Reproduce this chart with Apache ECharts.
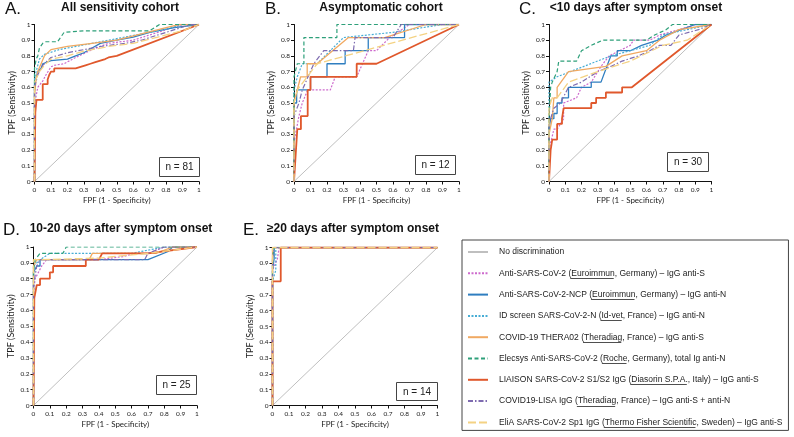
<!DOCTYPE html>
<html><head><meta charset="utf-8">
<script src="https://cdn.jsdelivr.net/npm/echarts@6/dist/echarts.min.js"></script>
<style>html,body{margin:0;padding:0;background:#fff}#c{width:794px;height:437px}</style>
</head><body><div id="c"></div><script>
// ---------- labels ----------
const tickLabels = ['0','0.1','0.2','0.3','0.4','0.5','0.6','0.7','0.8','0.9','1'];
const panelLetters = ['A.','B.','C.','D.','E.'];
const panelTitles = ['All sensitivity cohort','Asymptomatic cohort','<10 days after symptom onset','10-20 days after symptom onset','\u226520 days after symptom onset'];
const panelN = [81, 12, 30, 25, 14];
const diagName = 'No discrimination';
const seriesNames = [
  'Anti-SARS-CoV-2 (Euroimmun, Germany) \u2013 IgG anti-S',
  'Anti-SARS-CoV-2-NCP (Euroimmun, Germany) \u2013 IgG anti-N',
  'ID screen SARS-CoV-2-N (Id-vet, France) \u2013 IgG anti-N',
  'COVID-19 THERA02 (Theradiag, France) \u2013 IgG anti-S',
  'Elecsys Anti-SARS-CoV-2 (Roche, Germany), total Ig anti-N',
  'LIAISON SARS-CoV-2 S1/S2 IgG (Diasorin S.P.A., Italy) \u2013 IgG anti-S',
  'COVID19-LISA IgG (Theradiag, France) \u2013 IgG anti-S + anti-N',
  'EliA SARS-CoV-2 Sp1 IgG (Thermo Fisher Scientific, Sweden) \u2013 IgG anti-S'
];
const underlined = ['Euroimmun','Euroimmun','Id-vet','Theradiag','Roche','Diasorin S.P.A.','Theradiag','Thermo Fisher Scientific'];

// ---------- data: [FPF, TPF] ----------
const diagonal = [[0,0],[1,1]];

// A. All sensitivity cohort (n = 81)
const A_euroS = [[0,0],[0,0.49],[0.02,0.6],[0.05,0.64],[0.07,0.68],[0.1,0.73],[0.12,0.74],[0.18,0.75],[0.25,0.79],[0.35,0.84],[0.45,0.88],[0.6,0.9],[0.75,0.95],[0.9,1],[1,1]];
const A_euroN = [[0,0],[0,0.62],[0.01,0.66],[0.02,0.7],[0.04,0.72],[0.05,0.75],[0.1,0.77],[0.2,0.78],[0.25,0.8],[0.3,0.82],[0.35,0.85],[0.4,0.88],[0.5,0.9],[0.6,0.92],[0.7,0.95],[0.85,0.98],[1,1]];
const A_idvet = [[0,0],[0,0.66],[0.01,0.7],[0.03,0.78],[0.06,0.81],[0.15,0.84],[0.3,0.87],[0.5,0.91],[0.65,0.94],[0.8,0.97],[0.9,1],[1,1]];
const A_thera = [[0,0],[0,0.55],[0.01,0.65],[0.02,0.7],[0.04,0.75],[0.06,0.8],[0.1,0.84],[0.2,0.86],[0.35,0.88],[0.5,0.9],[0.65,0.94],[0.8,0.98],[0.88,1],[1,1]];
const A_elecsys = [[0,0],[0,0.72],[0.01,0.78],[0.02,0.8],[0.03,0.85],[0.05,0.88],[0.065,0.89],[0.14,0.89],[0.18,0.95],[0.3,0.96],[0.7,0.96],[0.76,1],[1,1]];
const A_liaison = [[0,0],[0.005,0],[0.005,0.44],[0.012,0.44],[0.012,0.52],[0.05,0.52],[0.05,0.62],[0.08,0.62],[0.08,0.65],[0.09,0.65],[0.09,0.68],[0.1,0.68],[0.1,0.7],[0.12,0.7],[0.12,0.72],[0.25,0.72],[0.25,0.73],[0.28,0.73],[0.28,0.74],[0.31,0.74],[0.31,0.75],[0.34,0.75],[0.34,0.76],[0.37,0.76],[0.37,0.77],[0.4,0.77],[0.4,0.78],[0.43,0.78],[0.43,0.79],[0.45,0.79],[0.45,0.8],[0.5,0.8],[0.5,0.81],[1,1]];
const A_lisa = [[0,0],[0,0.6],[0.02,0.68],[0.05,0.74],[0.1,0.79],[0.2,0.82],[0.3,0.84],[0.4,0.86],[0.55,0.88],[0.65,0.9],[0.8,0.95],[0.95,1],[1,1]];
const A_elia = [[0,0],[0,0.63],[0.03,0.7],[0.06,0.74],[0.1,0.78],[0.2,0.8],[0.3,0.83],[0.45,0.86],[0.6,0.88],[0.75,0.92],[0.9,0.96],[1,1]];

// B. Asymptomatic cohort (n = 12)
const B_euroS = [[0,0],[0,0.25],[0.03,0.417],[0.05,0.5],[0.083,0.583],[0.22,0.583],[0.25,0.667],[0.38,0.667],[0.45,0.833],[0.5,0.833],[0.58,0.917],[0.7,1],[1,1]];
const B_euroN = [[0,0],[0,0.5],[0.016,0.5],[0.016,0.583],[0.1,0.583],[0.1,0.667],[0.2,0.667],[0.2,0.75],[0.31,0.75],[0.31,0.833],[0.45,0.833],[0.45,0.917],[0.67,0.917],[0.67,1],[1,1]];
const B_idvet = [[0,0],[0,0.583],[0.02,0.667],[0.05,0.75],[0.14,0.75],[0.3,0.917],[0.6,0.95],[0.9,1],[1,1]];
const B_thera = [[0,0],[0,0.5],[0.02,0.583],[0.04,0.667],[0.08,0.667],[0.08,0.75],[0.14,0.75],[0.33,0.917],[0.55,0.917],[0.8,1],[1,1]];
const B_elecsys = [[0,0],[0,0.667],[0.02,0.75],[0.06,0.75],[0.06,0.917],[0.26,0.917],[0.26,1],[1,1]];
const B_liaison = [[0,0],[0.01,0],[0.01,0.167],[0.02,0.167],[0.02,0.333],[0.042,0.333],[0.042,0.417],[0.083,0.417],[0.083,0.583],[0.1,0.583],[0.1,0.667],[0.38,0.667],[0.38,0.75],[0.5,0.75],[1,1]];
const B_lisa = [[0,0],[0,0.417],[0.03,0.5],[0.05,0.583],[0.12,0.75],[0.18,0.833],[0.36,0.833],[0.37,0.917],[0.6,0.917],[0.65,1],[1,1]];
const B_elia = [[0,0],[0,0.5],[0.02,0.583],[0.08,0.667],[0.14,0.75],[1,1]];

// C. <10 days after symptom onset (n = 30)
const C_euroS = [[0,0],[0,0.2],[0.03,0.333],[0.05,0.333],[0.09,0.4],[0.09,0.5],[0.17,0.533],[0.2,0.6],[0.26,0.633],[0.32,0.733],[0.37,0.8],[0.5,0.867],[0.52,0.9],[0.62,0.9],[0.68,0.933],[0.8,0.967],[0.9,1],[1,1]];
const C_euroN = [[0,0],[0,0.333],[0.01,0.4],[0.03,0.4],[0.03,0.433],[0.05,0.433],[0.05,0.5],[0.08,0.5],[0.08,0.533],[0.12,0.533],[0.12,0.6],[0.26,0.6],[0.26,0.633],[0.32,0.633],[0.38,0.8],[0.42,0.8],[0.42,0.833],[0.5,0.833],[0.57,0.867],[0.67,0.9],[0.72,0.933],[0.9,1],[1,1]];
const C_idvet = [[0,0],[0,0.633],[0.05,0.667],[0.38,0.8],[0.5,0.833],[0.62,0.867],[0.7,0.933],[0.85,0.967],[1,1]];
const C_thera = [[0,0],[0,0.3],[0.02,0.4],[0.03,0.533],[0.05,0.533],[0.05,0.6],[0.12,0.7],[0.35,0.733],[0.45,0.8],[0.6,0.833],[0.68,0.9],[0.8,0.967],[1,1]];
const C_elecsys = [[0,0],[0,0.4],[0.01,0.6],[0.02,0.633],[0.05,0.7],[0.06,0.767],[0.17,0.767],[0.2,0.833],[0.26,0.867],[0.33,0.9],[0.6,0.9],[0.65,0.933],[0.72,0.967],[0.76,1],[1,1]];
const C_liaison = [[0,0],[0.01,0.2],[0.02,0.2],[0.02,0.267],[0.05,0.267],[0.05,0.367],[0.08,0.367],[0.08,0.4],[0.09,0.467],[0.26,0.467],[0.26,0.5],[0.29,0.5],[0.29,0.533],[0.35,0.533],[0.35,0.567],[0.45,0.567],[0.45,0.6],[0.51,0.6],[1,1]];
const C_lisa = [[0,0],[0,0.367],[0.03,0.467],[0.07,0.5],[0.12,0.6],[0.2,0.633],[0.3,0.7],[0.38,0.733],[0.45,0.767],[0.55,0.8],[0.62,0.833],[0.68,0.867],[0.75,0.867],[0.8,0.933],[0.92,0.967],[1,1]];
const C_elia = [[0,0],[0,0.467],[0.02,0.533],[0.05,0.533],[0.12,0.633],[0.3,0.7],[0.5,0.767],[0.7,0.867],[0.85,0.9],[1,1]];

// D. 10-20 days after symptom onset (n = 25)
const D_euroS = [[0,0],[0,0.72],[0.01,0.8],[0.03,0.84],[0.05,0.88],[0.08,0.92],[0.4,0.92],[0.55,0.94],[0.62,0.96],[0.7,0.96],[0.8,1],[1,1]];
const D_euroN = [[0,0],[0,0.84],[0.02,0.88],[0.04,0.88],[0.04,0.92],[0.7,0.92],[0.82,0.97],[0.85,1],[1,1]];
const D_idvet = [[0,0],[0,0.88],[0.04,0.92],[0.1,0.96],[0.6,0.96],[0.8,1],[1,1]];
const D_thera = [[0,0],[0,0.88],[0.02,0.92],[0.34,0.92],[0.36,0.96],[0.75,0.96],[0.85,1],[1,1]];
const D_elecsys = [[0,0],[0,0.84],[0.01,0.92],[0.04,0.96],[0.18,0.96],[0.2,1],[1,1]];
const D_liaison = [[0,0],[0.005,0],[0.005,0.68],[0.02,0.76],[0.04,0.76],[0.04,0.8],[0.1,0.8],[0.1,0.84],[0.12,0.84],[0.12,0.88],[0.32,0.88],[0.32,0.92],[0.4,0.92],[0.42,0.96],[0.7,0.96],[1,1]];
const D_lisa = [[0,0],[0,0.76],[0.02,0.88],[0.04,0.92],[0.68,0.92],[0.7,0.96],[0.8,1],[1,1]];
const D_elia = [[0,0],[0,0.92],[0.04,0.92],[0.4,0.93],[0.7,0.96],[1,1]];

// E. >=20 days after symptom onset (n = 14)
const E_euroS = [[0,0],[0,0.857],[0.03,0.929],[0.04,1],[1,1]];
const E_euroN = [[0,0],[0,0.857],[0.01,0.929],[0.01,1],[1,1]];
const E_idvet = [[0,0],[0,0.786],[0.02,0.857],[0.02,1],[1,1]];
const E_thera = [[0,0],[0,1],[1,1]];
const E_elecsys = [[0,0],[0,0.929],[0.01,1],[1,1]];
const E_liaison = [[0,0],[0,0.786],[0.05,0.786],[0.05,1],[1,1]];
const E_lisa = [[0,0],[0,0.929],[0.01,1],[1,1]];
const E_elia = [[0,0],[0,1],[1,1]];

const panelData = [
  [A_euroS, A_euroN, A_idvet, A_thera, A_elecsys, A_liaison, A_lisa, A_elia],
  [B_euroS, B_euroN, B_idvet, B_thera, B_elecsys, B_liaison, B_lisa, B_elia],
  [C_euroS, C_euroN, C_idvet, C_thera, C_elecsys, C_liaison, C_lisa, C_elia],
  [D_euroS, D_euroN, D_idvet, D_thera, D_elecsys, D_liaison, D_lisa, D_elia],
  [E_euroS, E_euroN, E_idvet, E_thera, E_elecsys, E_liaison, E_lisa, E_elia]
];

// ---------- styles & layout ----------
const diagColor = '#BFBFBF';
const seriesStyles = [
  {color:'#CD6ACD', width:1.2, type:[2,1.5]},
  {color:'#2F7EC0', width:1.3, type:'solid'},
  {color:'#47ADD5', width:1.2, type:[2,1.5]},
  {color:'#F0A962', width:1.3, type:'solid'},
  {color:'#2EA07A', width:1.2, type:[4,2.5]},
  {color:'#E0582C', width:1.8, type:'solid'},
  {color:'#7E6BB0', width:1.2, type:[5,2,1.5,2]},
  {color:'#F4D283', width:1.3, type:[8,3]}
];
const grids = [
  {left:34.5, top:24.5, width:164.5, height:157},
  {left:294, top:24.5, width:165, height:157},
  {left:549, top:24.5, width:162.5, height:157},
  {left:33.5, top:247, width:163.5, height:158.5},
  {left:272.5, top:247.5, width:165, height:158}
];
const letterPos = [[5,9.5],[265,9.5],[519,9.5],[3,230],[243,230]];
const titlePos = [[120,8],[381,8],[636,8],[121,229],[353,229]];
const nBox = [[159,157,40,19],[415,155,40,19],[667,152,41,19],[156,375,40,19],[396,382,41,18]];
const FONT_TICK = 'Lato';
const FONT_TEXT = 'Liberation Sans';

const xAxes = [], yAxes = [], series = [], graphics = [];
grids.forEach((g, p) => {
  const common = {
    type:'value', gridIndex:p, min:0, max:1, interval:0.1,
    axisLine:{show:true, onZero:false, lineStyle:{color:'#111', width:1}},
    axisTick:{show:true, length:3, lineStyle:{color:'#111', width:1}},
    splitLine:{show:false},
    axisLabel:{fontFamily:FONT_TICK, fontSize:6.5, color:'#222', formatter:v => tickLabels[Math.round(v*10)]},
    nameLocation:'middle'
  };
  xAxes.push(Object.assign({}, common, {name:'FPF (1 - Specificity)', nameGap:15,
    nameTextStyle:{fontFamily:FONT_TICK, fontSize:8, color:'#222'},
    axisLabel:Object.assign({}, common.axisLabel, {margin:5})}));
  yAxes.push(Object.assign({}, common, {name:'TPF (Sensitivity)', nameGap:18, nameRotate:90,
    nameTextStyle:{fontFamily:FONT_TICK, fontSize:9, color:'#222'},
    axisLabel:Object.assign({}, common.axisLabel, {margin:4})}));
  series.push({name:diagName, type:'line', xAxisIndex:p, yAxisIndex:p, data:diagonal, symbol:'none', silent:true, z:1,
    lineStyle:{color:diagColor, width:1}, itemStyle:{color:diagColor}});
  panelData[p].forEach((d, s) => {
    series.push({name:seriesNames[s], type:'line', xAxisIndex:p, yAxisIndex:p, data:d, symbol:'none', silent:true, z:2,
      lineStyle:{color:seriesStyles[s].color, width:seriesStyles[s].width, type:seriesStyles[s].type}, itemStyle:{color:seriesStyles[s].color}});
  });
  graphics.push({type:'text', x:letterPos[p][0], y:letterPos[p][1], style:{text:panelLetters[p], font:'17px "Liberation Sans"', fill:'#111', align:'left', verticalAlign:'middle'}});
  graphics.push({type:'text', x:titlePos[p][0], y:titlePos[p][1], style:{text:panelTitles[p], font:'bold 12px "Liberation Sans"', fill:'#111', align:'center', verticalAlign:'middle'}});
  const b = nBox[p];
  graphics.push({type:'rect', z:10, shape:{x:b[0]+0.5, y:b[1]+0.5, width:b[2], height:b[3]}, style:{fill:'#fff', stroke:'#444', lineWidth:1}});
  graphics.push({type:'text', z:11, x:b[0]+b[2]/2+0.5, y:b[1]+b[3]/2+1, style:{text:'n = ' + panelN[p], font:'10px "Liberation Sans"', fill:'#222', align:'center', verticalAlign:'middle'}});
});

// legend layout
const LEG = {left:462, top:240, padT:6, padR:6, padB:2, padL:5, iw:20, ih:12, gap:9.3, textPad:6, fs:8.5};
const ctx = document.createElement('canvas').getContext('2d');
ctx.font = LEG.fs + 'px "' + FONT_TEXT + '"';
seriesNames.forEach((nm, i) => {
  const u = underlined[i];
  const idx = nm.indexOf(u);
  const x0 = LEG.left + LEG.padL + LEG.iw + 5 + LEG.textPad + ctx.measureText(nm.slice(0, idx)).width;
  const w = ctx.measureText(u).width;
  const row = i + 1;
  const y = LEG.top + LEG.padT + row*(LEG.ih + LEG.gap) + LEG.ih/2 + 4.5;
  graphics.push({type:'line', z:20, shape:{x1:x0, y1:Math.round(y)+0.5, x2:x0+w, y2:Math.round(y)+0.5}, style:{stroke:'#222', lineWidth:0.8}});
});

const chart = echarts.init(document.getElementById('c'), null, {renderer:'canvas'});
chart.setOption({
  animation:false,
  backgroundColor:'#fff',
  grid: grids.map(g => Object.assign({containLabel:false, outerBoundsMode:'none'}, g)),
  xAxis: xAxes,
  yAxis: yAxes,
  legend:{
    data:[diagName].concat(seriesNames), orient:'vertical', left:LEG.left, top:LEG.top,
    padding:[LEG.padT, LEG.padR, LEG.padB, LEG.padL], itemWidth:LEG.iw, itemHeight:LEG.ih, itemGap:LEG.gap,
    borderColor:'#444', borderWidth:1, selectedMode:false,
    itemStyle:{opacity:0},
    textStyle:{fontFamily:FONT_TEXT, fontSize:LEG.fs, color:'#222', lineHeight:LEG.ih, padding:[0,0,0,LEG.textPad]}
  },
  graphic: graphics,
  series: series
});
</script></body></html>
